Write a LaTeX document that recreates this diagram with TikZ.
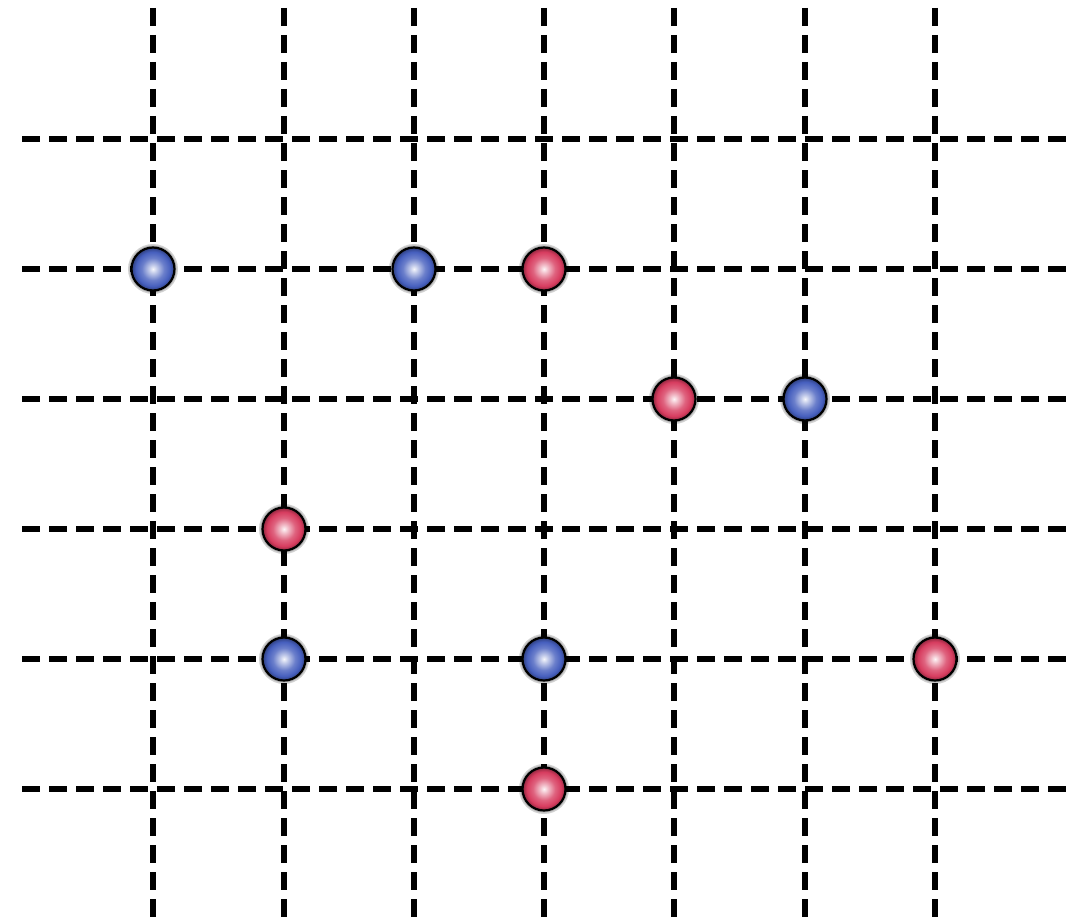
\documentclass[tikz,border=0pt]{standalone}
\usetikzlibrary{calc}
\definecolor{ballblue}{RGB}{70,95,190}
\definecolor{ballred}{RGB}{215,60,95}
\pgfdeclareradialshading{blueball}{\pgfpoint{0bp}{0bp}}{%
  color(0bp)=(ballblue!5!white); color(5bp)=(ballblue!35!white); color(13bp)=(ballblue!80!white);
  color(20bp)=(ballblue); color(25bp)=(ballblue!65!black); color(50bp)=(ballblue!65!black)}
\pgfdeclareradialshading{redball}{\pgfpoint{0bp}{0bp}}{%
  color(0bp)=(ballred!5!white); color(5bp)=(ballred!35!white); color(13bp)=(ballred!80!white);
  color(20bp)=(ballred); color(25bp)=(ballred!65!black); color(50bp)=(ballred!65!black)}
\tikzset{
  gridline/.style={line width=5.5pt, dash pattern=on 18pt off 9pt, black},
  ballbase/.style={circle, minimum size=43pt, inner sep=0pt, draw=black, line width=2.2pt},
  blueb/.style={ballbase, shading=blueball},
  redb/.style={ballbase, shading=redball},
  halo/.style={black, opacity=0.18},
}
\begin{document}
\begin{tikzpicture}[x=1pt,y=-1pt]
\useasboundingbox (0,0) rectangle (1083,923);
\foreach \i/\x in {1/153,2/284,3/414,4/544,5/674,6/805,7/935}{
  \coordinate (vt\i) at (\x,8);
  \coordinate (vb\i) at (\x,923);
  \draw[gridline] (vt\i) -- (vb\i);
}
\foreach \j/\y in {1/139,2/269,3/399,4/529,5/659,6/789}{
  \coordinate (hl\j) at (22,\y);
  \coordinate (hr\j) at (1067,\y);
  \draw[gridline] (hl\j) -- (hr\j);
}
\foreach \n/\st/\x/\y in {b1/blueb/153/269, b2/blueb/414/269, r1/redb/544/269,
  r2/redb/674/399, b3/blueb/805/399, r3/redb/284/529,
  b4/blueb/284/659, b5/blueb/544/659, r4/redb/935/659, r5/redb/544/789}{
  \fill[halo] (\x,\y) circle (25pt);
  \fill[halo] (\x,\y) circle (23.5pt);
  \node[\st] (\n) at (\x,\y) {};
}
\end{tikzpicture}
\end{document}
